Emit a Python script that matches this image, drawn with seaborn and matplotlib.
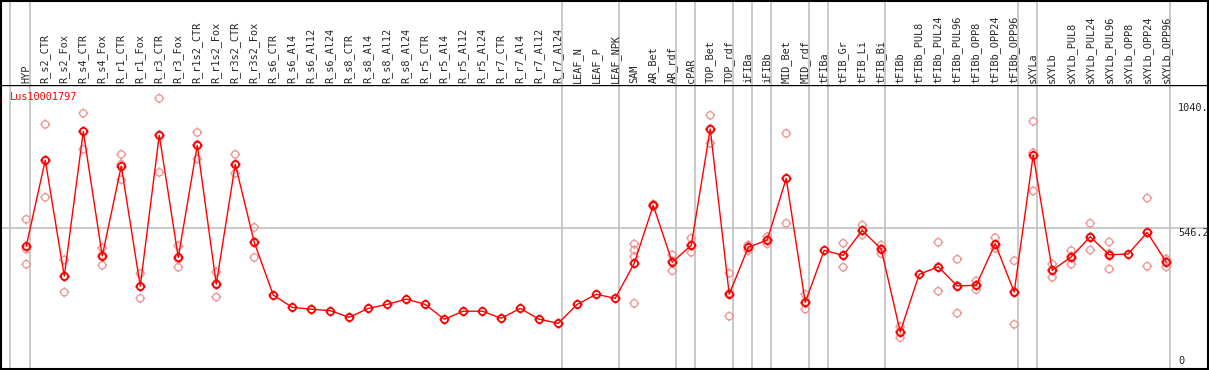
#!/usr/bin/env python3
"""
Expression profile for Lus10001797 across tissues / treatments
"""

import numpy as np
import pandas as pd
import matplotlib
matplotlib.use("Agg")
import matplotlib.pyplot as plt
from matplotlib.path import Path
import seaborn as sns

gene_id = "Lus10001797"

samples = [
    "HYP", "R_s2_CTR", "R_s2_Fox", "R_s4_CTR", "R_s4_Fox", "R_r1_CTR", "R_r1_Fox",
    "R_r3_CTR", "R_r3_Fox", "R_r1s2_CTR", "R_r1s2_Fox", "R_r3s2_CTR", "R_r3s2_Fox",
    "R_s6_CTR", "R_s6_Al4", "R_s6_Al12", "R_s6_Al24", "R_s8_CTR", "R_s8_Al4",
    "R_s8_Al12", "R_s8_Al24", "R_r5_CTR", "R_r5_Al4", "R_r5_Al12", "R_r5_Al24",
    "R_r7_CTR", "R_r7_Al4", "R_r7_Al12", "R_r7_Al24", "LEAF_N", "LEAF_P", "LEAF_NPK",
    "SAM", "AR_Bet", "AR_rdf", "cPAR", "TOP_Bet", "TOP_rdf", "iFIBa", "iFIBb",
    "MID_Bet", "MID_rdf", "tFIBa", "tFIB_Gr", "tFIB_Li", "tFIB_Bi", "tFIBb",
    "tFIBb_PUL8", "tFIBb_PUL24", "tFIBb_PUL96", "tFIBb_OPP8", "tFIBb_OPP24",
    "tFIBb_OPP96", "sXYLa", "sXYLb", "sXYLb_PUL8", "sXYLb_PUL24", "sXYLb_PUL96",
    "sXYLb_OPP8", "sXYLb_OPP24", "sXYLb_OPP96",
]

# number of samples in each tissue group (grey separators between groups)
group_sizes = [1, 28, 3, 3, 1, 2, 1, 1, 2, 1, 3, 7, 1, 7]

means = [
    475, 815, 356, 929, 436, 792, 316, 914, 430, 874, 324, 799, 490,
    281, 232, 225, 219, 193, 228, 244, 265, 244, 185, 217, 217, 189, 228, 185, 169,
    244, 284, 268,
    407, 636, 411, 478, 939, 284, 470, 499, 743, 252, 458, 438, 537, 463,
    135, 363, 393, 317, 320, 484, 293,
    836, 379, 432, 512, 440, 444, 529, 412,
]

N = None
rep_a = [
    581, 957, 420, 1001, 468, 838, 366, 1060, 476, 925, 372, 838, 549,
    N, N, N, N, N, N, N, N, N, N, N, N, N, N, N, N, N, N, N,
    483, 641, 440, 506, 993, 367, 479, 512, 921, 284, N, 486, 558, 479,
    156, N, 490, 423, 337, 508, 417,
    969, 404, 457, 565, 491, N, 665, 424,
]
rep_b = [
    403, 668, 292, 858, 399, 738, 268, 767, 391, 820, 273, 763, 430,
    N, N, N, N, N, N, N, N, N, N, N, N, N, N, N, N, N, N, N,
    248, 631, 377, 450, 882, 197, 457, 484, 565, 225, N, 391, 519, 445,
    112, N, 296, 209, 302, 466, 165,
    693, 351, 403, 459, 384, N, 395, 392,
]
rep_c = [
    463, 815, 356, 929, 440, 800, 314, 915, 423, 877, 327, 796, 491,
    N, N, N, N, N, N, N, N, N, N, N, N, N, N, N, N, N, N, N,
    459, 636, 415, 478, 940, 288, 474, 500, 743, 248, N, 438, 535, 465,
    137, N, 393, 318, 320, 480, 295,
    845, 380, 435, 512, 445, N, 528, 415,
]
rep_extra_sample = ["SAM"]
rep_extra_value = [433]

ref_value = 546.2
top_label = "1040."


def ticked_circle():
    # circle with four small ticks, like the original plotting symbol
    circ = Path.unit_circle()
    verts = list(circ.vertices)
    codes = list(circ.codes)
    for dx, dy in [(1, 0), (-1, 0), (0, 1), (0, -1)]:
        verts += [(dx, dy), (dx * 1.4, dy * 1.4)]
        codes += [Path.MOVETO, Path.LINETO]
    return Path(verts, codes)


def main():
    sns.set_style("white")
    plt.rcParams["font.family"] = ["DejaVu Sans Mono"]

    pos = {s: i for i, s in enumerate(samples)}
    reps = pd.DataFrame({"sample": samples * 3, "value": rep_a + rep_b + rep_c})
    extra = pd.DataFrame({"sample": rep_extra_sample, "value": rep_extra_value})
    reps = pd.concat([reps, extra]).dropna()
    reps["pos"] = reps["sample"].map(pos)
    df = pd.DataFrame({"pos": np.arange(len(samples)), "mean": means})

    fig = plt.figure(figsize=(12.09, 3.70), dpi=100)
    ax = fig.add_axes([1 / 1209, 1 / 370, 1207 / 1209, 284 / 370])
    ax_top = fig.add_axes([1 / 1209, 285 / 370, 1207 / 1209, 84 / 370], sharex=ax)

    ax.set_xlim(-1.33, 62.2)
    ax.set_ylim(-12, 1113)
    ax_top.set_ylim(0, 1)

    # group separators
    bounds = [-0.84] + list(np.cumsum(group_sizes) - 1 + 0.2)
    for b in bounds:
        ax.axvline(b, color="#c0c0c0", lw=1.2, zorder=1)
        ax_top.axvline(b, color="#c0c0c0", lw=1.2, zorder=1)
    ax.axhline(ref_value, color="#c0c0c0", lw=1.2, zorder=1)

    mk = ticked_circle()
    sns.scatterplot(data=reps, x="pos", y="value", marker=mk, s=52,
                    facecolors="none", edgecolor="#ee9a9a", linewidth=1.0,
                    ax=ax, legend=False, zorder=3)
    sns.lineplot(data=df, x="pos", y="mean", color="red", lw=1.0,
                 marker=mk, markersize=7.2, markerfacecolor="none",
                 markeredgecolor="red", markeredgewidth=1.3, ax=ax, zorder=4)

    # sample labels
    tr = ax_top.get_xaxis_transform()
    for i, s in enumerate(samples):
        ax_top.text(i, 0.025, s, rotation=90, ha="center", va="bottom",
                    fontsize=7.4, transform=tr)

    ax.text(0.0075, 0.975, gene_id, color="red", fontsize=7.4,
            ha="left", va="top", transform=ax.transAxes)
    ax.text(60.62, 1040, top_label, fontsize=7.4, ha="left", va="top")
    ax.text(60.62, ref_value, f"{ref_value}", fontsize=7.4, ha="left", va="top")
    ax.text(60.62, 0, "0", fontsize=7.4, ha="left", va="bottom")

    for a in (ax, ax_top):
        a.set_xticks([])
        a.set_yticks([])
        a.set_xlabel("")
        a.set_ylabel("")
        for sp in a.spines.values():
            sp.set_color("black")
            sp.set_linewidth(1.5)
    ax.spines["top"].set_linewidth(1.0)
    ax_top.spines["bottom"].set_visible(False)

    fig.savefig("out.png", dpi=100)
    plt.close(fig)


if __name__ == "__main__":
    main()
